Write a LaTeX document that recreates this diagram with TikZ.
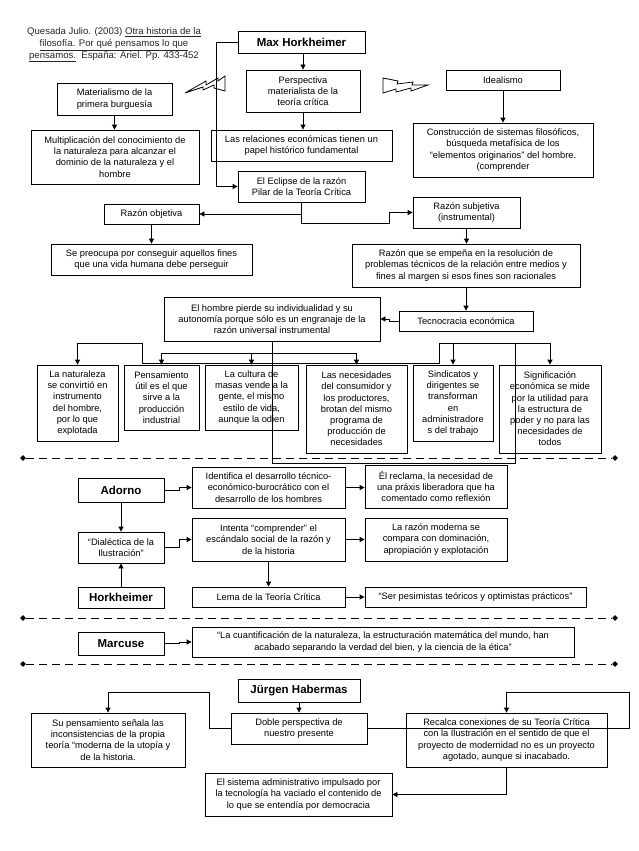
\documentclass[tikz,border=0pt]{standalone}
\usepackage{fontspec}
\setmainfont{Liberation Sans}
\usetikzlibrary{arrows.meta,shapes.geometric,calc}
\begin{document}
\begin{tikzpicture}[x=1pt,y=-1pt,
  box/.style={draw,line width=0.8pt,align=center,inner sep=1pt,font=\fontsize{9.3}{11.2}\selectfont},
  bbox/.style={box,font=\fontsize{11.5}{13}\bfseries\selectfont},
  arr/.style={-{Triangle[length=5pt,width=5pt]},line width=0.8pt},
  ln/.style={line width=0.8pt},
  sep/.style={dash pattern=on 8pt off 5pt,line width=0.8pt},
  dmd/.style={diamond,fill,inner sep=0pt,minimum width=6pt,minimum height=6pt},
]
\useasboundingbox (0,0) rectangle (638,851);

% citation
\node[font=\fontsize{9.6}{11.6}\selectfont,align=center,text=black!85] (cite) at (114,45)
 {Quesada Julio. (2003) \underline{Otra historia de la}\\\underline{filosofía. Por qué pensamos lo que}\\\underline{pensamos.}\ \ España: Ariel. Pp. 433-452};

% top part
\node[bbox,minimum width=127pt,minimum height=22pt] (maxh) at (301.5,42) {Max Horkheimer};
\node[box,minimum width=114pt,minimum height=42pt] (persp) at (303,91) {Perspectiva\\materialista de la\\teoría crítica};
\node[box,minimum width=181pt,minimum height=31pt] (relac) at (301.5,145.5) {Las relaciones económicas tienen un\\papel histórico fundamental};
\node[box,minimum width=127pt,minimum height=31pt] (eclipse) at (301.5,186.5) {El Eclipse de la razón\\Pilar de la Teoría Crítica};
\node[box,minimum width=115pt,minimum height=32pt] (mater) at (114.5,99) {Materialismo de la\\primera burguesía};
\node[box,minimum width=168pt,minimum height=54pt] (multi) at (115,157) {Multiplicación del conocimiento de\\la naturaleza para alcanzar el\\dominio de la naturaleza y el\\hombre};
\node[box,minimum width=114pt,minimum height=20pt] (ideal) at (503,80) {Idealismo};
\node[box,minimum width=180pt,minimum height=54pt] (constr) at (503,150) {Construcción de sistemas filosóficos,\\búsqueda metafísica de los\\“elementos originarios” del hombre.\\(comprender};
\node[box,minimum width=107pt,minimum height=31pt] (razsub) at (466.5,212.5) {Razón subjetiva\\(instrumental)};
\node[box,minimum width=95pt,minimum height=20pt] (razobj) at (151.5,214) {Razón objetiva};
\node[box,minimum width=201pt,minimum height=31pt] (sepre) at (151.5,259.5) {Se preocupa por conseguir aquellos fines\\que una vida humana debe perseguir};
\node[box,minimum width=228pt,minimum height=43pt] (razque) at (466,265.5) {Razón que se empeña en la resolución de\\problemas técnicos de la relación entre medios y\\fines al margen si esos fines son racionales};
\node[box,minimum width=134pt,minimum height=20pt] (tecno) at (466,321) {Tecnocracia económica};
\node[box,minimum width=216pt,minimum height=44pt] (hombre) at (272,319) {El hombre pierde su individualidad y su\\autonomía porque sólo es un engranaje de la\\razón universal instrumental};

% row
\node[box,minimum width=81pt,minimum height=76pt] (natur) at (77.5,403) {La naturaleza\\se convirtió en\\instrumento\\del hombre,\\por lo que\\explotada};
\node[box,minimum width=75pt,minimum height=65pt] (pens) at (161.5,397.5) {Pensamiento\\útil es el que\\sirve a la\\producción\\industrial};
\node[box,minimum width=93pt,minimum height=65pt] (cult) at (251.5,397.5) {La cultura de\\masas vende a la\\gente, el mismo\\estilo de vida,\\aunque la odien};
\node[box,minimum width=101pt,minimum height=88pt] (neces) at (356.5,409) {Las necesidades\\del consumidor y\\los productores,\\brotan del mismo\\programa de\\producción de\\necesidades};
\node[box,minimum width=80pt,minimum height=76pt] (sind) at (453,403) {Sindicatos y\\dirigentes se\\transforman\\en\\administradore\\s del trabajo};
\node[box,minimum width=102pt,minimum height=88pt] (signif) at (550,409) {Significación\\económica se mide\\por la utilidad para\\la estructura de\\poder y no para las\\necesidades de\\todos};

% lower part
\node[bbox,minimum width=86pt,minimum height=24pt] (adorno) at (121,490) {Adorno};
\node[box,minimum width=153pt,minimum height=41pt] (ident) at (268.5,487.5) {Identifica el desarrollo técnico-\\económico-burocrático con el\\desarrollo de los hombres};
\node[box,minimum width=142pt,minimum height=43pt] (reclama) at (436,486.5) {Él reclama, la necesidad de\\una práxis liberadora que ha\\comentado como reflexión};
\node[box,minimum width=86pt,minimum height=31pt] (dialec) at (121,547.5) {“Dialéctica de la\\Ilustración”};
\node[box,minimum width=153pt,minimum height=43pt] (intenta) at (268.5,539.5) {Intenta “comprender” el\\escándalo social de la razón y\\de la historia};
\node[box,minimum width=142pt,minimum height=43pt] (razmod) at (436,539.5) {La razón moderna se\\compara con dominación,\\apropiación y explotación};
\node[bbox,minimum width=86pt,minimum height=21pt] (horkh) at (121,597.5) {Horkheimer};
\node[box,minimum width=153pt,minimum height=20pt] (lema) at (268.5,597) {Lema de la Teoría Crítica};
\node[box,minimum width=221pt,minimum height=20pt] (ser) at (475.5,597) {“Ser pesimistas teóricos y optimistas prácticos”};
\node[bbox,minimum width=86pt,minimum height=23pt] (marcuse) at (121,643.5) {Marcuse};
\node[box,minimum width=382pt,minimum height=30pt] (cuant) at (383,642) {“La cuantificación de la naturaleza, la estructuración matemática del mundo, han\\acabado separando la verdad del bien, y la ciencia de la ética”};
\node[bbox,minimum width=122pt,minimum height=23pt] (jurgen) at (299,690.5) {Jürgen Habermas};
\node[box,minimum width=136pt,minimum height=31pt] (doble) at (299,728.5) {Doble perspectiva de\\nuestro presente};
\node[box,minimum width=154pt,minimum height=54pt] (supens) at (108,740) {Su pensamiento señala las\\inconsistencias de la propia\\teoría “moderna de la utopía y\\de la historia.};
\node[box,minimum width=201pt,minimum height=54pt] (recalca) at (506.5,740) {Recalca conexiones de su Teoría Crítica\\con la Ilustración en el sentido de que el\\proyecto de modernidad no es un proyecto\\agotado, aunque si inacabado.};
\node[box,minimum width=187pt,minimum height=43pt] (sistema) at (298.5,794.5) {El sistema administrativo impulsado por\\la tecnología ha vaciado el contenido de\\lo que se entendía por democracia};

% separators
\node[dmd] (s1a) at (23,458) {}; \node[dmd] (s1b) at (615,458) {};
\node[dmd] (s2a) at (23,618) {}; \node[dmd] (s2b) at (615,618) {};
\node[dmd] (s3a) at (23,664) {}; \node[dmd] (s3b) at (615,664) {};
\draw[sep] (s1a) -- (s1b);
\draw[sep] (s2a) -- (s2b);
\draw[sep] (s3a) -- (s3b);

% lightning bolts
\draw[ln,line join=miter] (185,93) -- (206,81) -- (206,85) -- (218,78) -- (218,81) -- (225,76) -- (225,91) -- (214,88) -- (214,85) -- (203,90) -- (203,87) -- cycle;
\draw[ln,line join=miter] (383,78) -- (398,81) -- (397,84) -- (413,82) -- (412,85) -- (428,85) -- (411,91) -- (411,88) -- (396,92) -- (396,89) -- (383,93) -- cycle;

% top connectors
\draw[arr] (maxh.south -| persp.north) -- (persp.north);
\draw[arr] (persp.south) -- (persp.south |- relac.north);
\draw[arr] (maxh.west) -- ++(-21,0) |- (eclipse.west);
\draw[arr] (mater.south) -- (mater.south |- multi.north);
\draw[arr] (ideal.south) -- (constr.north);
\coordinate (e1) at (301.5,223);
\coordinate (e2) at (389,223);
\draw[arr] (eclipse.south) |- (razobj.east);
\draw[arr] (eclipse.south) -- (e1) -- (e2) |- (razsub.west);
\draw[arr] (razobj.south) -- (sepre.north);
\draw[arr] (razsub.south) -- (razsub.south |- razque.north);
\draw[arr] (razque.south) -- (tecno.north);
\draw[arr] (tecno.west) -- ++(-9,0) |- (hombre.east);

% network to the row
\coordinate (j1) at (272,463);
\coordinate (j2) at (515,463);
\coordinate (j3) at (515,343);
\coordinate (j4) at (439,343);
\coordinate (j5) at (550,343);
\coordinate (j6) at (439,363);
\coordinate (j7) at (142,363);
\coordinate (j8) at (142,343);
\coordinate (j9) at (161.5,353);
\coordinate (j10) at (356.5,353);
\draw[ln] (hombre.south) -- (j1) -- (j2) -- (j3);
\draw[ln] (j4) -- (j5);
\draw[arr] (j4 -| sind.north) -- (sind.north);
\draw[arr] (j5) -- (signif.north);
\draw[arr] (j4) -- (j6) -- (j7) -- (j8) -| (natur.north);
\draw[ln] (j9) -- (j10);
\draw[arr] (j9) -- (pens.north);
\draw[arr] (j9 -| cult.north) -- (cult.north);
\draw[arr] (j10) -- (neces.north);

% lower connectors
\draw[arr] (adorno.east) -- ++(15,0) |- (ident.west);
\draw[arr] (ident.east) -- (ident.east -| reclama.west);
\draw[arr] (adorno.south) -- (dialec.north);
\draw[arr] (horkh.north) -- (dialec.south);
\draw[arr] (dialec.east) -- ++(15,0) |- (intenta.west);
\draw[arr] (intenta.east) -- (razmod.west);
\draw[arr] (intenta.south) -- (lema.north);
\draw[arr] (lema.east) -- (ser.west);
\draw[arr] (marcuse.east) -- ++(15,0) |- (cuant.west);

% Habermas
\coordinate (h1) at (209,692);
\coordinate (h2) at (629,728.5);
\coordinate (h3) at (629,692);
\draw[arr] (jurgen.south) -- (doble.north);
\draw[arr] (doble.west) -| (h1) -| (supens.north);
\draw[arr] (doble.east) -- (h2) -- (h3) -| (recalca.north);
\draw[arr] (recalca.south) |- (sistema.east);
\end{tikzpicture}
\end{document}
